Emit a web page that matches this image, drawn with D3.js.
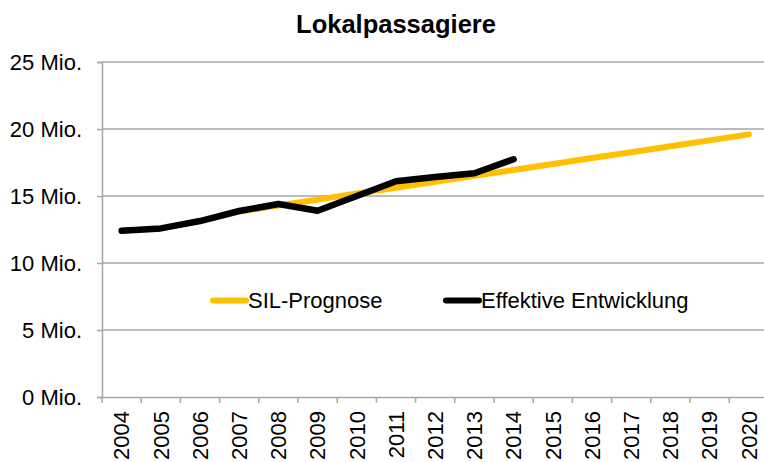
<!DOCTYPE html>
<html><head><meta charset="utf-8">
<script src="https://cdn.jsdelivr.net/npm/d3@7"></script>
<style>html,body{margin:0;padding:0;background:#fff;}svg{display:block;font-family:"Liberation Sans",Arial,sans-serif;}</style>
</head><body>
<svg id="c" width="764" height="462"></svg>
<script>
const years = ["2004","2005","2006","2007","2008","2009","2010","2011","2012","2013","2014","2015","2016","2017","2018","2019","2020"];
const prognoseYears = ["2007","2008","2009","2010","2011","2012","2013","2014","2015","2016","2017","2018","2019","2020"];
const prognoseValues = [13.85,14.29,14.73,15.18,15.62,16.06,16.50,16.94,17.39,17.83,18.27,18.71,19.15,19.60];
const effektivYears = ["2004","2005","2006","2007","2008","2009","2010","2011","2012","2013","2014"];
const effektivValues = [12.41,12.58,13.13,13.88,14.40,13.90,15.00,16.10,16.42,16.70,17.74];
const yTicks = [0,5,10,15,20,25];
const yTickLabels = ["0 Mio.","5 Mio.","10 Mio.","15 Mio.","20 Mio.","25 Mio."];
const title = "Lokalpassagiere";
const seriesNames = ["SIL-Prognose","Effektive Entwicklung"];
const seriesColors = ["#FFC000","#000000"];

const svg = d3.select("#c");
const L = 102, R = 768.4, T = 62, B = 397;
const x = d3.scaleBand().domain(years).range([L, R]).padding(0);
const y = d3.scaleLinear().domain([0,25]).range([B, T]);
const grid = "#a6a6a6";
const fs = 22;

svg.append("text").attr("x",396).attr("y",33).attr("text-anchor","middle")
  .attr("font-size",25.5).attr("font-weight","bold").text(title);

// gridlines
svg.append("g").selectAll("line").data(yTicks.filter(d=>d>0)).join("line")
  .attr("x1",L).attr("x2",R).attr("y1",d=>y(d)).attr("y2",d=>y(d))
  .attr("stroke",grid).attr("stroke-width",1.5);

// y axis
const ya = svg.append("g").attr("transform",`translate(${L},0)`)
  .call(d3.axisLeft(y).tickValues(yTicks).tickSize(5).tickPadding(15).tickFormat((d,i)=>yTickLabels[i]));
ya.select(".domain").attr("stroke",grid).attr("stroke-width",1.5);
ya.selectAll(".tick line").attr("stroke",grid).attr("stroke-width",1.5);
ya.selectAll(".tick text").attr("font-size",fs).attr("font-family","Liberation Sans, Arial, sans-serif").attr("fill","#000");

// x axis
const xa = svg.append("g").attr("transform",`translate(0,${B})`)
  .call(d3.axisBottom(x).tickSize(0).tickSizeOuter(0));
xa.select(".domain").attr("stroke",grid).attr("stroke-width",1.5);
xa.selectAll(".tick text").attr("font-size",fs).attr("font-family","Liberation Sans, Arial, sans-serif").attr("fill","#000")
  .attr("transform","rotate(-90)").attr("text-anchor","end").attr("x",-14).attr("y",0).attr("dy","0.35em");
const edges = years.map(d=>x(d)).concat([R]);
svg.append("g").selectAll("line").data(edges).join("line")
  .attr("x1",d=>d).attr("x2",d=>d).attr("y1",B).attr("y2",B+6)
  .attr("stroke",grid).attr("stroke-width",1.5);

const cx = d => x(d) + x.bandwidth()/2;
const line = d3.line().x(d=>cx(d[0])).y(d=>y(d[1]));

svg.append("path").datum(prognoseYears.map((d,i)=>[d,prognoseValues[i]]))
  .attr("d",line).attr("fill","none").attr("stroke",seriesColors[0]).attr("stroke-width",6)
  .attr("stroke-linecap","round").attr("stroke-linejoin","round");
svg.append("path").datum(effektivYears.map((d,i)=>[d,effektivValues[i]]))
  .attr("d",line).attr("fill","none").attr("stroke",seriesColors[1]).attr("stroke-width",6.5)
  .attr("stroke-linecap","round").attr("stroke-linejoin","round");

// legend
const legX = [211, 444];
seriesNames.forEach((n,i)=>{
  svg.append("line").attr("x1",legX[i]+2).attr("x2",legX[i]+35).attr("y1",300.5).attr("y2",300.5)
    .attr("stroke",seriesColors[i]).attr("stroke-width",6).attr("stroke-linecap","round");
  svg.append("text").attr("x",legX[i]+37).attr("y",300.5).attr("dy","0.35em")
    .attr("font-size",fs).text(n);
});
</script>
</body></html>
